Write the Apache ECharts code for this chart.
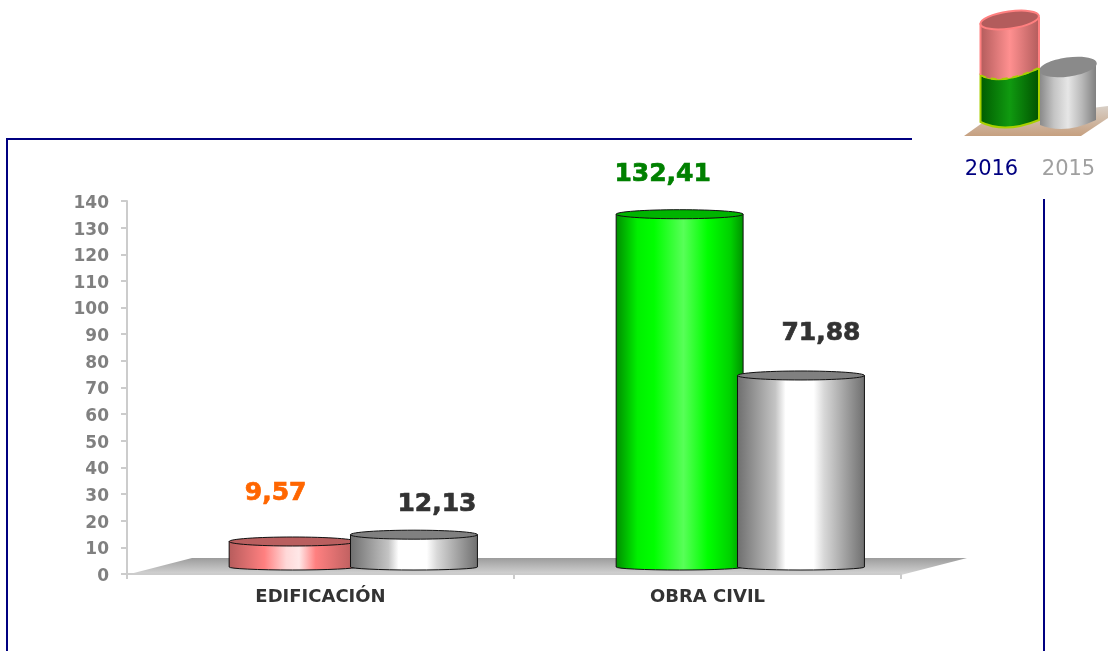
<!DOCTYPE html>
<html><head><meta charset="utf-8">
<style>html,body{margin:0;padding:0;background:#fff}#c{width:1108px;height:651px}</style>
<script src="https://cdn.jsdelivr.net/npm/echarts@6/dist/echarts.min.js"></script>
</head><body><div id="c"></div>
<script>
const categories = ['EDIFICACIÓN', 'OBRA CIVIL'];
const values2016 = [9.57, 132.41];
const values2015 = [12.13, 71.88];
const yTicks = { min: 0, max: 140, step: 10 };

const FONT = '"DejaVu Sans", Verdana, sans-serif';
const NAVY = '#000080';
function hGrad(stops){
  return new echarts.graphic.LinearGradient(0,0,1,0,stops.map(s=>({offset:s[0],color:s[1]})));
}
const looks = {
  red:  {top:'#b95f5f', text:'#ff6600', body:[[0,'#b65c5c'],[.28,'#ff8080'],[.45,'#ffd8d8'],[.55,'#ffe8e8'],[.68,'#ff8080'],[1,'#b65c5c']]},
  green:{top:'#00b400', text:'#008000', body:[[0,'#008c00'],[.17,'#00f000'],[.3,'#00ff00'],[.53,'#58ff58'],[.72,'#00ff00'],[.9,'#00d000'],[1,'#009000']]},
  grey: {top:'#808080', text:'#333333', body:[[0,'#6e6e6e'],[.3,'#c4c4c4'],[.38,'#ffffff'],[.6,'#ffffff'],[.68,'#d8d8d8'],[1,'#6e6e6e']]}
};
// geometry of the pseudo-3D cylinders relative to the category band
const barW = 0.328, depthUp = 7, ryTop = 4.5, ryBottom = 3;
const pairShift = {'2016':-0.072,'2015':0.2415};
const labelNudge = {
  '2016':[{dx:-17,dy:-48},{dx:-17,dy:-40}],
  '2015':[{dx:23,dy:-30},{dx:20,dy:-42}]
};
function cylinder(name, rowLook){
  return function(params, api){
    const cat = api.value(0), val = api.value(1);
    const band = api.size([1,0])[0];
    const centre = api.coord([cat,0])[0] + band*pairShift[name];
    const base = api.coord([cat,0])[1] - depthUp;
    const top = api.coord([cat,val])[1] - depthUp;
    const w = band*barW, x0 = centre - w/2, x1 = centre + w/2;
    const lk = looks[rowLook[cat]];
    const n = labelNudge[name][cat];
    return {type:'group',children:[
      {type:'path',shape:{pathData:`M${x0},${top}L${x0},${base}A${w/2},${ryBottom},0,0,0,${x1},${base}L${x1},${top}Z`},
        style:{fill:hGrad(lk.body),stroke:'#111',lineWidth:1}},
      {type:'ellipse',shape:{cx:centre,cy:top,rx:w/2,ry:ryTop},style:{fill:lk.top,stroke:'#111',lineWidth:1}},
      {type:'text',style:{x:centre+n.dx,y:top+n.dy,text:val.toFixed(2).replace('.',','),align:'center',verticalAlign:'middle',
        fill:lk.text,stroke:lk.text,lineWidth:0.7,font:`bold 25px ${FONT}`}}
    ]};
  };
}
// small legend picture top right (decoration, no data)
function legendArt(){
  return {type:'group',children:[
    {type:'path',shape:{pathData:'M1040,72L1040,125Q1065,135 1096,120L1096,62Z'},
      style:{fill:hGrad([[0,'#8a8a8a'],[.25,'#c4c4c4'],[.5,'#e6e6e6'],[.75,'#b8b8b8'],[1,'#808080']])}},
    {type:'ellipse',shape:{cx:1068,cy:67,rx:29,ry:9.5},rotation:0.14,originX:1068,originY:67,style:{fill:'#8a8a8a'}},
    {type:'path',shape:{pathData:'M980.5,75Q1000,86 1039,68L1039,120Q1005,134 980.5,122Z'},
      style:{fill:hGrad([[0,'#005a00'],[.5,'#109a10'],[1,'#005000']]),stroke:'#a8d000',lineWidth:2}},
    {type:'path',shape:{pathData:'M980.5,23L980.5,75Q1000,86 1039,68L1039,17Z'},
      style:{fill:hGrad([[0,'#b35c5c'],[.5,'#ff9090'],[1,'#b35c5c']])}},
    {type:'path',shape:{pathData:'M980.5,75Q1000,86 1039,68'},style:{fill:null,stroke:'#a8d000',lineWidth:2,lineDash:[6,5]}},
    {type:'line',shape:{x1:980.5,y1:23,x2:980.5,y2:75},style:{stroke:'#ff8080',lineWidth:2}},
    {type:'line',shape:{x1:1039,y1:17,x2:1039,y2:68},style:{stroke:'#ff8080',lineWidth:2}},
    {type:'ellipse',shape:{cx:1009.7,cy:20,rx:29.5,ry:8.5},rotation:0.14,originX:1009.7,originY:20,style:{fill:'#b35c5c',stroke:'#ff8080',lineWidth:2}}
  ]};
}
const chart = echarts.init(document.getElementById('c'),null,{renderer:'canvas'});
chart.setOption({
  animation:false,
  backgroundColor:'#fff',
  grid:{left:127,right:207,top:201,bottom:77},
  xAxis:{type:'category',data:categories,boundaryGap:true,
    axisLine:{lineStyle:{color:'#cccccc',width:2}},
    axisTick:{show:true,length:5,alignWithLabel:false,lineStyle:{color:'#cccccc',width:2}},
    axisLabel:{color:'#333',fontFamily:FONT,fontWeight:'bold',fontSize:18,margin:14},z:1},
  yAxis:{type:'value',min:yTicks.min,max:yTicks.max,interval:yTicks.step,
    axisLine:{show:true,lineStyle:{color:'#cccccc',width:2}},
    axisTick:{show:true,length:6,lineStyle:{color:'#cccccc',width:2}},
    splitLine:{show:false},
    axisLabel:{color:'#808080',fontFamily:FONT,fontWeight:'bold',fontSize:17,margin:18,verticalAlign:'top',lineHeight:17,padding:[-6,0,0,0]}},
  series:[
    {name:'2016',type:'custom',clip:false,renderItem:cylinder('2016',['red','green']),encode:{x:0,y:1},data:values2016.map((v,i)=>[i,v]),z:3},
    {name:'2015',type:'custom',clip:false,renderItem:cylinder('2015',['grey','grey']),encode:{x:0,y:1},data:values2015.map((v,i)=>[i,v]),z:4},
    {name:'legend-art',type:'custom',clip:false,silent:true,renderItem:legendArt,encode:{x:0,y:1},data:[[0,0]],z:5}
  ],
  graphic:[
    {type:'polygon',z:0,silent:true,shape:{points:[[126,575],[192,558],[967,558],[901,575]]},
      style:{fill:new echarts.graphic.LinearGradient(0,0,0,1,[{offset:0,color:'#9c9c9c'},{offset:1,color:'#d6d6d6'}])}},
    {type:'polyline',z:1,silent:true,shape:{points:[[912,139],[7,139],[7,651]]},style:{stroke:NAVY,fill:null,lineWidth:2}},
    {type:'line',z:1,silent:true,shape:{x1:1044,y1:199,x2:1044,y2:651},style:{stroke:NAVY,lineWidth:2}},
    {type:'polygon',z:1,silent:true,shape:{points:[[964,136],[1081,136],[1108,118],[1108,106],[985,121]]},
      style:{fill:new echarts.graphic.LinearGradient(0,0,0,1,[{offset:0,color:'#d8cfc6'},{offset:1,color:'#c6a080'}])}},
    {type:'text',z:5,style:{x:991.5,y:170,text:'2016',align:'center',verticalAlign:'middle',fill:NAVY,font:`21px ${FONT}`}},
    {type:'text',z:5,style:{x:1068.5,y:170,text:'2015',align:'center',verticalAlign:'middle',fill:'#a0a0a0',font:`21px ${FONT}`}}
  ]
});
</script></body></html>
